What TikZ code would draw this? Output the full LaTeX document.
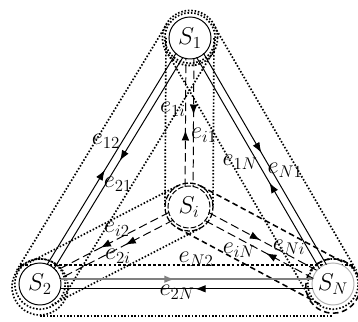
\documentclass[tikz,border=0pt]{standalone}
\usetikzlibrary{calc,decorations.markings,arrows.meta}

\begin{document}
\begin{tikzpicture}[x=0.025cm,y=-0.025cm,
  sys/.style={draw, circle, fill=white, line width=0.7pt, minimum size=1.05cm, inner sep=0pt, font=\fontsize{18}{20}\selectfont},
  lbl/.style={inner sep=0pt, font=\fontsize{18}{20}\selectfont},
  link/.style={line width=0.7pt, shorten <=0.5cm, shorten >=0.5cm},
  dlink/.style={link, dash pattern=on 6pt off 3pt},
  hull/.style={line width=1.2pt, dash pattern=on 1.1pt off 1.3pt},
  dhull/.style={line width=1.1pt, dash pattern=on 4pt off 2.5pt},
  tipat/.style={postaction={decorate}, decoration={markings, mark=at position #1 with {\arrow{Latex[length=2.6mm,width=1.9mm]}}}}
]
\useasboundingbox (0,0) rectangle (358,322);

% subsystems
\coordinate (c1) at (190,38);
\coordinate (c2) at (40,284);
\coordinate (cN) at (333,284);
\coordinate (ci) at (189,207);

% pair hulls
\draw[hull] ($(c1)!0.675cm!90:(c2)$) -- ($(c2)!0.675cm!-90:(c1)$);
\draw[hull] ($(c1)!0.675cm!-90:(c2)$) -- ($(c2)!0.675cm!90:(c1)$);
\draw[hull] ($(c1)!0.675cm!90:(cN)$) -- ($(cN)!0.675cm!-90:(c1)$);
\draw[hull] ($(c1)!0.675cm!-90:(cN)$) -- ($(cN)!0.675cm!90:(c1)$);
\draw[hull] ($(c1)!0.6cm!90:(ci)$) -- ($(ci)!0.6cm!-90:(c1)$);
\draw[hull] ($(c1)!0.6cm!-90:(ci)$) -- ($(ci)!0.6cm!90:(c1)$);
\draw[hull] ($(ci)!0.6cm!90:(c2)$) -- ($(c2)!0.6cm!-90:(ci)$);
\draw[hull] ($(ci)!0.6cm!-90:(c2)$) -- ($(c2)!0.6cm!90:(ci)$);
\draw[dhull] ($(ci)!0.6cm!90:(cN)$) -- ($(cN)!0.6cm!-90:(ci)$);
\draw[dhull] ($(ci)!0.6cm!-90:(cN)$) -- ($(cN)!0.6cm!90:(ci)$);
\draw[line width=1pt, dash pattern=on 2pt off 1.5pt] ($(c2)+(-20,-19)$) -- ($(cN)+(20,-19)$);
\draw[hull] ($(c2)+(0,32)$) -- ($(cN)+(0,32)$);

% rings
\draw[hull] (c1) circle[radius=0.63cm] (c1) circle[radius=0.69cm];
\draw[hull] (c2) circle[radius=0.63cm] ($(c2)+(0,3)$) circle[radius=0.7cm];
\draw[hull] (cN) circle[radius=0.63cm];
\draw[dhull] ($(cN)+(0,2)$) circle[radius=0.68cm];
\draw[line width=0.9pt, dash pattern=on 4pt off 1.5pt] (ci) circle[radius=0.6cm];

\node[sys] (S1) at (c1) {$S_1$};
\node[sys] (S2) at (c2) {$S_2$};
\node[sys, draw=gray!60] (SN) at (cN) {$S_N$};
\node[sys, dash pattern=on 4pt off 1.5pt] (Si) at (ci) {$S_i$};

% interconnections
\draw[link, tipat=0.455] ($(S2)!0.1cm!90:(S1)$) -- ($(S1)!0.1cm!-90:(S2)$);
\draw[link, tipat=0.49] ($(S1)!0.1cm!90:(S2)$) -- ($(S2)!0.1cm!-90:(S1)$);
\draw[link, tipat=0.475] ($(S1)!0.1cm!90:(SN)$) -- ($(SN)!0.1cm!-90:(S1)$);
\draw[link, tipat=0.42] ($(SN)!0.1cm!90:(S1)$) -- ($(S1)!0.1cm!-90:(SN)$);
\draw[link, line width=1.3pt, gray, tipat=0.46] ($(S2)!0.12cm!90:(SN)$) -- ($(SN)!0.12cm!-90:(S2)$);
\draw[link, tipat=0.47] ($(SN)!0.12cm!90:(S2)$) -- ($(S2)!0.12cm!-90:(SN)$);
\draw[dlink, tipat=0.455] ($(Si)!0.1cm!90:(S1)$) -- ($(S1)!0.1cm!-90:(Si)$);
\draw[dlink, tipat=0.455] ($(S1)!0.1cm!90:(Si)$) -- ($(Si)!0.1cm!-90:(S1)$);
\draw[dlink, tipat=0.58] ($(Si)!0.11cm!-90:(S2)$) -- ($(S2)!0.11cm!90:(Si)$);
\draw[dlink, tipat=0.44] ($(Si)!0.11cm!90:(S2)$) -- ($(S2)!0.11cm!-90:(Si)$);
\draw[dlink, tipat=0.48] ($(Si)!0.11cm!90:(SN)$) -- ($(SN)!0.11cm!-90:(Si)$);
\draw[dlink, tipat=0.45] ($(SN)!0.11cm!90:(Si)$) -- ($(Si)!0.11cm!-90:(SN)$);

% labels
\node[lbl] (l12) at (106,141) {$e_{12}$};
\node[lbl] (l21) at (118,184) {$e_{21}$};
\node[lbl] (l1i) at (173,109) {$e_{1i}$};
\node[lbl] (li1) at (204,135) {$e_{i1}$};
\node[lbl] (l1N) at (240,162) {$e_{1N}$};
\node[lbl] (lN1) at (285,170) {$e_{N1}$};
\node[lbl] (li2) at (117,229) {$e_{i2}$};
\node[lbl] (l2i) at (118,256) {$e_{2i}$};
\node[lbl] (liN) at (239,250) {$e_{iN}$};
\node[lbl] (lNi) at (289,247) {$e_{Ni}$};
\node[lbl] (lN2) at (196,259) {$e_{N2}$};
\node[lbl] (l2N) at (177,292) {$e_{2N}$};
\end{tikzpicture}
\end{document}
